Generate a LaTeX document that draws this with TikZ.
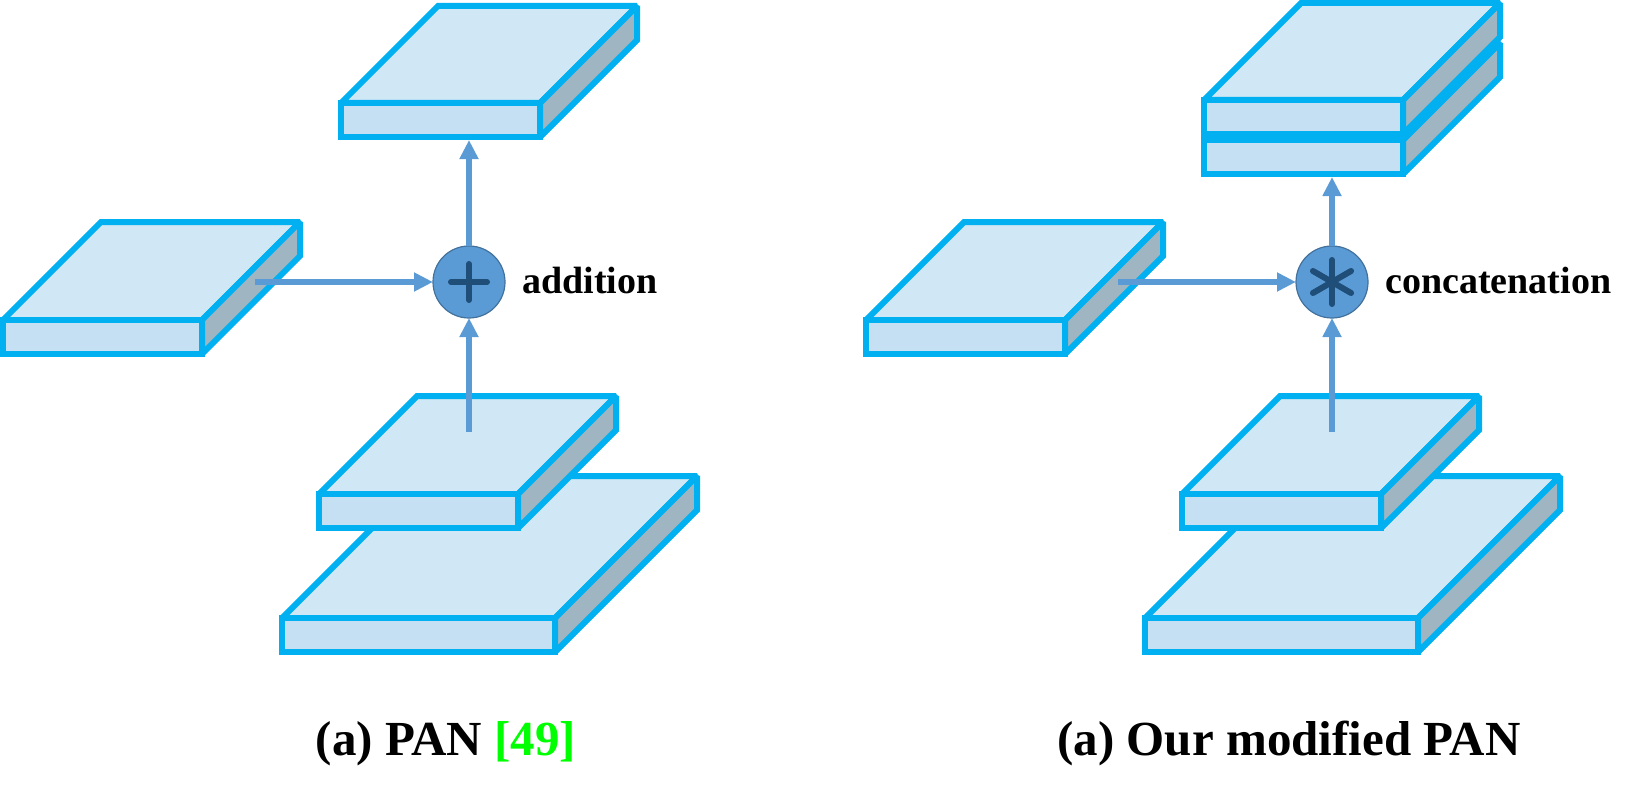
\documentclass[tikz,border=0pt]{standalone}
\usepackage{fontspec}
\setmainfont{Liberation Serif}
\usetikzlibrary{arrows.meta}

\definecolor{slabedge}{HTML}{00B0F0}
\definecolor{slabtop}{HTML}{D0E7F5}
\definecolor{slabfront}{HTML}{C4E0F2}
\definecolor{slabside}{HTML}{9FB6C2}
\definecolor{flowblue}{HTML}{5B9BD5}
\definecolor{opedge}{HTML}{41719C}
\definecolor{opsign}{HTML}{1F4E79}
\definecolor{citegreen}{HTML}{00FF00}

\tikzset{
    slabface/.style={draw=slabedge, line width=3pt, line join=miter, miter limit=2},
    flow/.style={draw=flowblue, line width=2.75pt, -{Triangle[length=9.5pt,width=9pt]}},
    opnode/.style={circle, minimum size=36pt, inner sep=0pt, outer sep=0pt, fill=flowblue, draw=opedge, line width=0.6pt},
    opmark/.style={draw=opsign, line width=3pt, line cap=round},
    oplabel/.style={font=\fontsize{19pt}{22pt}\selectfont\bfseries, inner sep=0pt},
    caption/.style={font=\fontsize{24.5pt}{28pt}\selectfont\bfseries, inner sep=0pt}
}

% feature map: front top-left corner (#1,#2), width #3, depth #4
\newcommand{\featslab}[4]{%
    \filldraw[slabface, fill=slabtop] (#1,#2) -- ++(#4,-#4) -- ++(#3,0) -- ++(-#4,#4) -- cycle;
    \filldraw[slabface, fill=slabfront] (#1,#2) rectangle ++(#3,34);
    \filldraw[slabface, fill=slabside] ({#1+#3},#2) -- ++(#4,-#4) -- ++(0,34) -- ++(-#4,#4) -- cycle;
}

\begin{document}
\begin{tikzpicture}[x=0.5pt, y=-0.5pt]
    \useasboundingbox (0,0) rectangle (1632,797);

    % (a) PAN
    \featslab{341}{103}{199}{97}
    \featslab{3}{320}{199}{98}
    \featslab{282}{618}{273}{142}
    \featslab{319}{494}{199}{98}

    \node[opnode] (addL) at (469,282) {};
    \draw[opmark] ([xshift=-9pt]addL.center) -- ([xshift=9pt]addL.center);
    \draw[opmark] ([yshift=-9pt]addL.center) -- ([yshift=9pt]addL.center);
    \node[oplabel, anchor=base west] (addTxt) at (522,293) {addition};

    \coordinate (latL) at (255,282);
    \coordinate (lowL) at (469,432);
    \coordinate (outL) at (469,140);
    \draw[flow] (latL) -- (addL);
    \draw[flow] (lowL) -- (addL);
    \draw[flow] (addL) -- (outL);

    \node[caption, anchor=base] (capL) at (446,755) {(a) PAN \textcolor{citegreen}{[49]}};

    % (a) Our modified PAN
    \featslab{1204}{140}{199}{97}
    \featslab{1204}{100}{199}{97}
    \featslab{866}{320}{199}{98}
    \featslab{1145}{618}{273}{142}
    \featslab{1182}{494}{199}{98}

    \node[opnode] (catR) at (1332,282) {};
    \foreach \ang in {90,30,150}
        \draw[opmark] (catR.center) ++(\ang:11pt) -- ++(\ang+180:22pt);
    \node[oplabel, anchor=base west] (catTxt) at (1385,293) {concatenation};

    \coordinate (latR) at (1118,282);
    \coordinate (lowR) at (1332,432);
    \coordinate (outR) at (1332,177);
    \draw[flow] (latR) -- (catR);
    \draw[flow] (lowR) -- (catR);
    \draw[flow] (catR) -- (outR);

    \node[caption, anchor=base] (capR) at (1289,755) {(a) Our modified PAN};
\end{tikzpicture}
\end{document}
